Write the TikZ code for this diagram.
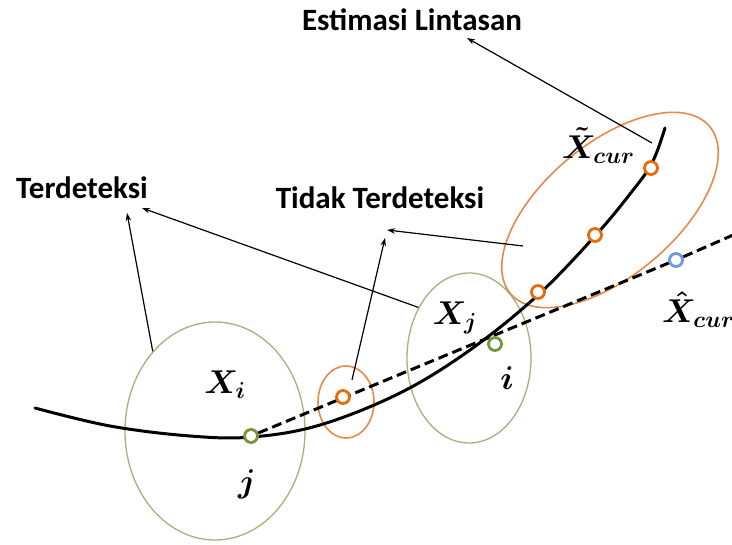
\RequirePackage{fix-cm}
\documentclass[tikz,border=0pt]{standalone}
\usepackage{fontspec}
\newfontfamily\labfont{Carlito}
\usetikzlibrary{shapes.geometric,arrows.meta}
\definecolor{orgE}{HTML}{E8894A}
\definecolor{orgC}{HTML}{E46C0A}
\definecolor{grnE}{HTML}{9DB57A}
\definecolor{grnC}{HTML}{77933C}
\definecolor{bluC}{HTML}{6A9BD8}
\begin{document}
\begin{tikzpicture}[x=1pt,y=-1pt,
  lbl/.style={font=\labfont\bfseries\fontsize{31}{36}\selectfont, inner sep=0},
  mth/.style={font=\boldmath\fontsize{33}{38}\selectfont, inner sep=0},
  ptr/.style={-{Stealth[length=8pt,width=5.5pt]}, line width=1.2pt},
  grnell/.style={ellipse, draw=grnE, line width=1.3pt, inner sep=0},
  orgell/.style={ellipse, draw=orgE, line width=1.6pt, inner sep=0},
  mk/.style={circle, line width=2.8pt, minimum size=13pt, inner sep=0, fill=white},
  traj/.style={line width=3pt, line cap=round},
  pred/.style={line width=3pt, dash pattern=on 10pt off 5pt}]
\useasboundingbox (0,0) rectangle (732,545);
% ellipses
\node[grnell, minimum width=180pt, minimum height=218pt] (Ei) at (215,431) {};
\node[grnell, minimum width=124pt, minimum height=170pt] (Ej) at (469,358) {};
\node[orgell, minimum width=56pt, minimum height=72pt] (Es) at (346,402) {};
\node[orgell, minimum width=260pt, minimum height=132pt, rotate=40] (Eb) at (610,210) {};
% trajectory
\draw[traj] plot[smooth, tension=0.6] coordinates {(35,408) (110,426) (190,436) (252,437) (320,425) (400,393) (470,350) (538,295) (595,236) (630,194) (652,163) (665,128)};
% markers
\node[mk, draw=grnC] (j) at (251,436) {};
\node[mk, draw=bluC] (cur) at (676,260) {};
\coordinate (far) at (740,232);
\draw[pred] (j) -- (cur) -- (far);
\node[mk, draw=grnC] (i) at (495,344) {};
\node[mk, draw=orgC] (s) at (343,397) {};
\node[mk, draw=orgC] (o1) at (538,292) {};
\node[mk, draw=orgC] (o2) at (595,235) {};
\node[mk, draw=orgC] (o3) at (651,168) {};
% labels
\node[lbl] (est) at (412,20) {Estimasi Lintasan};
\node[lbl] (ter) at (82,188) {Terdeteksi};
\node[lbl] (tid) at (380,198) {Tidak Terdeteksi};
\node[mth] (Xi) at (225,385) {$X_i$};
\node[mth] (Xj) at (455,318) {$X_j$};
\node[mth] (jl) at (247,484) {$j$};
\node[mth] (il) at (507,378) {$i$};
\node[mth, anchor=west] (Xt) at (562,146) {$\tilde{X}_{cur}$};
\node[mth, anchor=west] (Xh) at (662,310) {$\hat{X}_{cur}$};
% pointers
\coordinate (pe) at (652,143);
\coordinate (ps) at (352,380);
\coordinate (pb) at (523,246);
\coordinate (te) at (467,38);
\coordinate (t1) at (127,213);
\coordinate (t2) at (142,208);
\coordinate (t3) at (387,230);
\coordinate (t4) at (385,238);
\draw[ptr] (pe) -- (te);
\draw[ptr] (Ei.128) -- (t1);
\draw[ptr] (Ej.135) -- (t2);
\draw[ptr] (pb) -- (t3);
\draw[ptr] (ps) -- (t4);
\end{tikzpicture}
\end{document}
